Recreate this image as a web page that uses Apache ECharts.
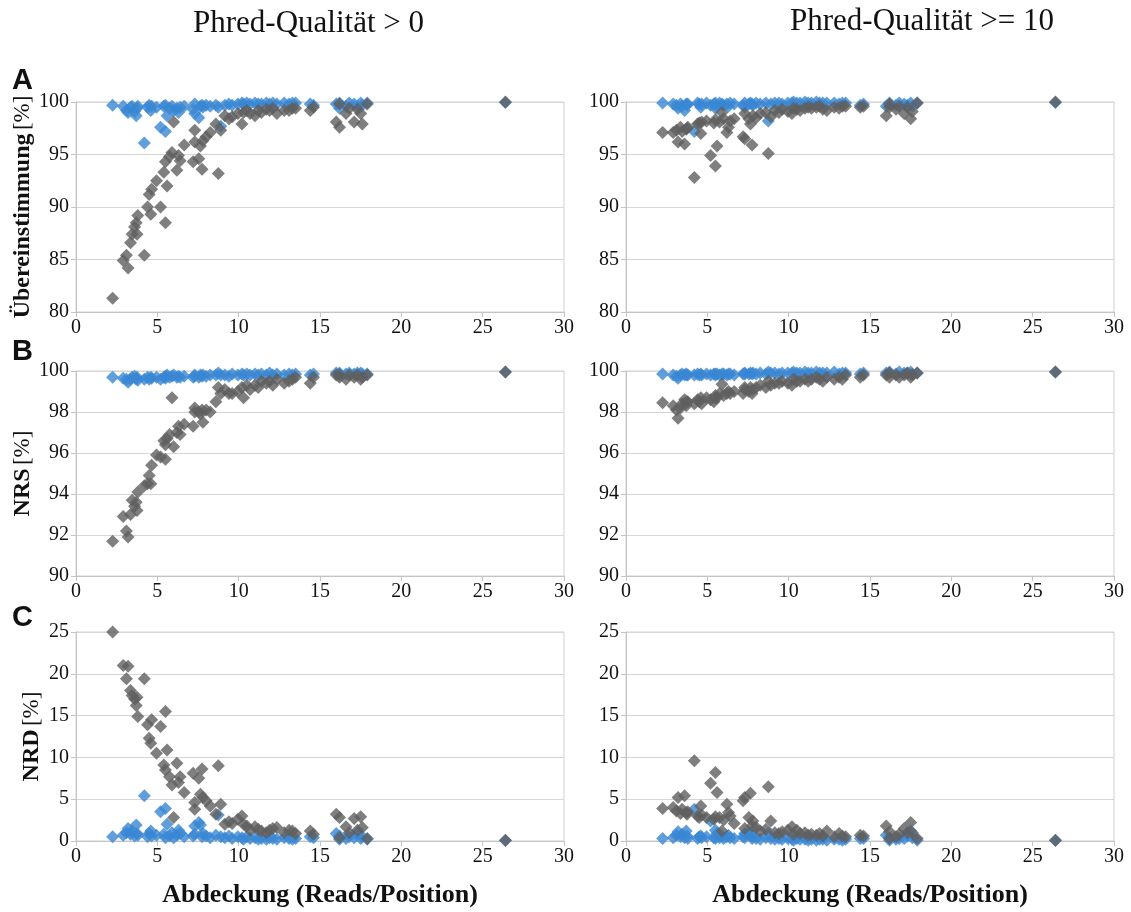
<!DOCTYPE html>
<html>
<head>
<meta charset="utf-8">
<script src="https://cdn.jsdelivr.net/npm/echarts@6/dist/echarts.min.js"></script>
<style>
  html, body { margin: 0; padding: 0; background: #fff; }
  #container { width: 1131px; height: 912px; }
</style>
</head>
<body>
<div id="container"></div>
<script>
// Abdeckung (Reads/Position) - gemeinsame x-Werte fuer alle Panels
var coverage = [
  2.25, 2.9, 3.1, 3.2, 3.35, 3.45, 3.6, 3.7, 3.75, 3.8,
  4.2, 4.4, 4.5, 4.6, 4.65, 4.95, 5.2, 5.4, 5.5, 5.5,
  5.6, 5.75, 5.9, 6.0, 6.2, 6.3, 6.4, 6.65, 7.2, 7.3,
  7.3, 7.55, 7.65, 7.75, 7.8, 8.0, 8.25, 8.6, 8.75, 8.9,
  9.15, 9.4, 9.6, 9.95, 10.2, 10.3, 10.5, 10.7, 11.0, 11.2,
  11.4, 11.7, 11.9, 12.1, 12.35, 12.8, 13.1, 13.3, 13.5, 14.4,
  14.6, 16.0, 16.2, 16.2, 16.6, 16.8, 17.1, 17.3, 17.5, 17.6,
  17.9, 26.4
];

// A: Uebereinstimmung [%]
var agreeQ0Gray = [
  81.3, 84.9, 85.4, 84.2, 86.6, 87.4, 88.1, 88.5, 87.4, 89.2,
  85.4, 90.0, 91.2, 89.3, 91.7, 92.5, 90.0, 93.3, 94.3, 88.5,
  92.0, 94.8, 95.2, 98.1, 93.5, 94.9, 94.4, 95.9, 94.3, 97.3,
  96.2, 94.6, 95.8, 93.6, 96.3, 96.7, 97.1, 97.9, 93.2, 97.3,
  98.7, 98.4, 98.6, 98.9, 97.9, 99.0, 99.2, 98.9, 98.7, 99.2,
  99.0, 99.3, 99.2, 99.4, 98.9, 99.2, 99.2, 99.4, 99.4, 99.2,
  99.5, 98.1, 97.6, 99.8, 98.9, 99.4, 98.1, 99.3, 98.9, 97.9,
  99.8, 100
];
var agreeQ0Blue = [
  99.7, 99.6, 99.2, 99.0, 99.5, 99.6, 99.1, 98.7, 99.4, 99.6,
  96.1, 99.5, 99.7, 99.2, 99.6, 99.5, 97.6, 99.6, 97.2, 99.7,
  98.7, 99.4, 99.6, 99.2, 99.4, 99.0, 99.5, 99.6, 99.3, 99.8,
  98.9, 98.5, 99.6, 99.7, 99.5, 99.7, 99.6, 99.7, 99.5, 97.7,
  99.7, 99.8, 99.7, 99.8, 99.9, 99.8, 99.9, 99.8, 99.9, 99.8,
  99.8, 99.9, 99.8, 99.9, 99.8, 99.9, 99.8, 99.9, 99.9, 99.8,
  99.7, 99.8, 99.4, 99.9, 99.6, 99.9, 99.8, 99.6, 99.9, 99.7,
  99.9, 99.95
];
var agreeQ10Gray = [
  97.1, 97.1, 97.3, 96.2, 97.6, 97.2, 96.0, 97.4, 97.5, 97.6,
  92.8, 97.9, 98.0, 97.0, 98.1, 98.2, 94.9, 98.0, 93.9, 98.3,
  95.8, 98.1, 99.0, 98.4, 97.1, 97.6, 98.2, 98.4, 96.7, 98.9,
  96.5, 98.4, 97.9, 95.9, 98.7, 98.5, 98.9, 99.0, 95.1, 98.6,
  99.2, 99.0, 99.3, 99.1, 98.9, 99.4, 99.3, 99.2, 99.4, 99.5,
  99.4, 99.5, 99.6, 99.3, 99.2, 99.5, 99.4, 99.6, 99.6, 99.5,
  99.6, 98.7, 99.5, 99.8, 99.3, 99.6, 98.9, 99.5, 98.4, 99.1,
  99.9, 100
];
var agreeQ10Blue = [
  99.9, 99.8, 99.7, 99.4, 99.8, 99.6, 99.2, 99.8, 99.7, 99.8,
  97.2, 99.9, 99.8, 99.5, 99.8, 99.9, 99.7, 99.8, 99.4, 99.9,
  99.6, 99.9, 99.8, 99.7, 99.8, 99.6, 99.9, 99.8, 99.7, 99.9,
  99.5, 99.8, 99.9, 99.8, 99.7, 99.9, 99.8, 99.9, 98.2, 99.8,
  99.9, 99.9, 99.8, 99.9, 99.9, 100, 99.9, 99.9, 100, 99.9,
  99.9, 100, 99.9, 99.9, 99.9, 99.9, 99.8, 99.9, 99.9, 99.7,
  99.8, 99.6, 99.8, 99.9, 99.7, 99.9, 99.8, 99.7, 99.9, 99.6,
  99.9, 99.95
];

// B: NRS [%]
var nrsQ0Gray = [
  91.7, 92.9, 92.2, 91.9, 93.0, 93.7, 93.4, 93.6, 93.2, 94.1,
  94.4, 94.5, 94.9, 94.5, 95.4, 95.9, 95.8, 96.6, 95.7, 96.4,
  96.7, 96.9, 98.7, 96.3, 97.0, 97.3, 96.9, 97.4, 97.3, 98.2,
  98.0, 98.0, 97.9, 98.1, 97.5, 98.1, 98.0, 98.5, 99.2, 98.9,
  99.1, 98.9, 98.9, 99.0, 99.2, 98.7, 99.3, 99.1, 99.3, 99.2,
  99.5, 99.4, 99.5, 99.3, 99.6, 99.4, 99.5, 99.6, 99.7, 99.4,
  99.7, 99.8, 99.7, 99.8, 99.6, 99.8, 99.7, 99.8, 99.6, 99.7,
  99.8, 99.95
];
var nrsQ0Blue = [
  99.7, 99.65, 99.6, 99.45, 99.6, 99.7, 99.75, 99.6, 99.7, 99.55,
  99.6, 99.7, 99.6, 99.7, 99.65, 99.7, 99.6, 99.7, 99.75, 99.65,
  99.8, 99.7, 99.75, 99.8, 99.7, 99.75, 99.7, 99.75, 99.7, 99.8,
  99.75, 99.7, 99.8, 99.75, 99.8, 99.75, 99.8, 99.8, 99.9, 99.8,
  99.8, 99.75, 99.85, 99.8, 99.85, 99.8, 99.85, 99.8, 99.85, 99.8,
  99.85, 99.8, 99.9, 99.8, 99.85, 99.8, 99.85, 99.8, 99.85, 99.8,
  99.85, 99.9, 99.85, 99.9, 99.85, 99.9, 99.85, 99.9, 99.9, 99.85,
  99.85, 99.95
];
var nrsQ10Gray = [
  98.45, 98.3, 98.1, 97.7, 98.2, 98.4, 98.6, 98.3, 98.5, 98.5,
  98.4, 98.6, 98.5, 98.7, 98.4, 98.7, 98.6, 98.5, 98.7, 98.8,
  98.7, 98.9, 99.35, 98.8, 98.9, 99.0, 98.9, 99.0, 98.9, 99.1,
  99.2, 99.0, 99.2, 98.9, 99.1, 99.2, 99.3, 99.2, 99.5, 99.3,
  99.4, 99.4, 99.5, 99.4, 99.3, 99.6, 99.5, 99.5, 99.6, 99.5,
  99.6, 99.7, 99.6, 99.5, 99.7, 99.6, 99.7, 99.6, 99.8, 99.7,
  99.8, 99.8, 99.9, 99.7, 99.8, 99.7, 99.8, 99.9, 99.7, 99.8,
  99.9, 99.95
];
var nrsQ10Blue = [
  99.85, 99.8, 99.75, 99.65, 99.8, 99.85, 99.8, 99.85, 99.8, 99.8,
  99.8, 99.85, 99.8, 99.85, 99.8, 99.85, 99.8, 99.85, 99.8, 99.85,
  99.85, 99.8, 99.85, 99.85, 99.8, 99.85, 99.85, 99.8, 99.85, 99.9,
  99.85, 99.85, 99.9, 99.85, 99.9, 99.85, 99.9, 99.85, 99.95, 99.9,
  99.9, 99.85, 99.9, 99.9, 99.9, 99.95, 99.9, 99.9, 99.95, 99.9,
  99.9, 99.95, 99.9, 99.9, 99.9, 99.95, 99.85, 99.9, 99.9, 99.85,
  99.9, 99.9, 99.95, 99.9, 99.85, 99.95, 99.9, 99.9, 99.95, 99.85,
  99.9, 99.95
];

// C: NRD [%]
var nrdQ0Gray = [
  25.0, 21.0, 19.4, 20.9, 18.0, 17.4, 17.0, 16.2, 17.2, 14.9,
  19.4, 13.9, 12.3, 11.7, 14.5, 10.5, 13.7, 9.1, 15.5, 8.5,
  10.9, 7.7, 6.7, 2.8, 9.3, 7.0, 7.7, 5.8, 8.1, 3.8,
  4.6, 7.5, 5.6, 8.6, 5.2, 4.8, 4.2, 3.2, 9.0, 4.4,
  2.0, 2.3, 2.1, 2.6, 3.0, 2.0, 1.8, 1.3, 1.7, 1.4,
  1.2, 1.0, 1.3, 1.5, 1.6, 1.0, 1.3, 1.2, 0.9, 1.2,
  0.8, 3.2, 2.8, 0.4, 1.7, 1.0, 2.7, 1.3, 2.9, 1.6,
  0.3, 0.1
];
var nrdQ0Blue = [
  0.5, 0.7, 1.0, 1.5, 0.8, 1.2, 0.6, 1.9, 0.9, 0.7,
  5.4, 0.5, 0.9, 1.2, 0.6, 0.7, 3.5, 0.8, 3.9, 0.4,
  2.0, 0.6, 1.0, 0.4, 0.7, 1.3, 0.9, 0.5, 0.6, 1.8,
  0.8, 2.2, 1.9, 0.5, 0.9, 0.6, 0.4, 0.7, 3.1, 0.5,
  0.4, 0.6, 0.3, 0.5, 0.4, 0.2, 0.5, 0.3, 0.4, 0.2,
  0.3, 0.2, 0.4, 0.3, 0.2, 0.4, 0.3, 0.2, 0.3, 0.5,
  0.4, 0.9, 0.2, 0.6, 0.3, 0.5, 0.4, 1.0, 0.3, 0.5,
  0.2, 0.05
];
var nrdQ10Gray = [
  3.9, 4.0, 3.6, 5.2, 3.3, 3.8, 5.4, 3.4, 3.2, 3.5,
  9.6, 3.0, 2.8, 4.2, 3.1, 2.8, 6.9, 2.6, 8.2, 2.9,
  5.8, 2.8, 1.2, 2.5, 4.4, 3.4, 3.0, 2.1, 4.8, 1.5,
  5.2, 2.8, 5.7, 1.8, 2.4, 1.6, 1.2, 1.4, 6.5, 2.4,
  1.0, 0.9, 1.1, 1.3, 1.7, 0.8, 1.3, 0.9, 1.0, 0.7,
  0.8, 0.7, 0.9, 0.6, 1.2, 0.5, 0.9, 0.6, 0.5, 0.7,
  0.6, 1.8, 0.3, 1.1, 0.5, 0.8, 1.5, 1.0, 2.2, 1.0,
  0.3, 0.1
];
var nrdQ10Blue = [
  0.3, 0.4, 0.7, 1.1, 0.5, 0.8, 0.4, 1.2, 0.6, 0.3,
  3.8, 0.3, 0.5, 0.6, 0.4, 0.5, 2.4, 0.4, 1.3, 0.3,
  0.9, 0.4, 0.6, 0.3, 0.5, 0.7, 0.4, 0.3, 0.5, 0.9,
  0.4, 1.0, 0.7, 0.3, 0.5, 0.3, 0.2, 0.4, 0.9, 0.3,
  0.2, 0.3, 0.2, 0.3, 0.2, 0.1, 0.3, 0.2, 0.2, 0.1,
  0.2, 0.1, 0.2, 0.2, 0.1, 0.2, 0.2, 0.1, 0.2, 0.3,
  0.3, 0.7, 0.1, 0.4, 0.2, 0.3, 0.3, 0.6, 1.2, 0.4,
  0.1, 0.05
];

var xTicks = [0, 30, 5];           // min, max, interval
var yTicksA = [80, 100, 5];
var yTicksB = [90, 100, 2];
var yTicksC = [0, 25, 5];

var BLUE = '#3a87d3';
var GRAY = '#5f5f5f';
var SERIF = '"Liberation Serif", "DejaVu Serif", serif';
var SANS = '"Liberation Sans", Arial, sans-serif';

function pairs(xs, ys) {
  var out = [];
  for (var i = 0; i < xs.length; i++) out.push([xs[i], ys[i]]);
  return out;
}

// panel layout: [left, top, width, height]
var panels = [
  { box: [76, 102, 488, 210], y: yTicksA, blue: agreeQ0Blue, gray: agreeQ0Gray, name: '{b|Übereinstimmung} {n|[%]}' },
  { box: [626, 102, 488, 210], y: yTicksA, blue: agreeQ10Blue, gray: agreeQ10Gray },
  { box: [76, 371, 488, 205], y: yTicksB, blue: nrsQ0Blue, gray: nrsQ0Gray, name: '{b|NRS} {n|[%]}' },
  { box: [626, 371, 488, 205], y: yTicksB, blue: nrsQ10Blue, gray: nrsQ10Gray },
  { box: [76, 632, 488, 209], y: yTicksC, blue: nrdQ0Blue, gray: nrdQ0Gray, name: '{b|NRD} {n|[%]}', xname: true },
  { box: [626, 632, 488, 209], y: yTicksC, blue: nrdQ10Blue, gray: nrdQ10Gray, xname: true }
];

var grids = [], xAxes = [], yAxes = [], series = [];
panels.forEach(function (p, i) {
  grids.push({
    left: p.box[0], top: p.box[1], width: p.box[2], height: p.box[3],
    show: true, borderColor: '#d0d0d0', borderWidth: 1, backgroundColor: 'transparent'
  });
  xAxes.push({
    type: 'value', gridIndex: i, min: xTicks[0], max: xTicks[1], interval: xTicks[2],
    axisLine: { lineStyle: { color: '#c4c4c4' } },
    axisTick: { show: true, length: 5, lineStyle: { color: '#c4c4c4' } },
    axisLabel: { margin: 6, color: '#111', fontFamily: SERIF, fontSize: 20 },
    splitLine: { show: false },
    name: p.xname ? 'Abdeckung (Reads/Position)' : '',
    nameLocation: 'middle', nameGap: 41,
    nameTextStyle: { color: '#111', fontFamily: SERIF, fontWeight: 'bold', fontSize: 26 }
  });
  yAxes.push({
    type: 'value', gridIndex: i, min: p.y[0], max: p.y[1], interval: p.y[2],
    axisLine: { show: true, lineStyle: { color: '#c4c4c4' } },
    axisTick: { show: true, length: 5, lineStyle: { color: '#c4c4c4' } },
    axisLabel: { margin: 7, color: '#111', fontFamily: SERIF, fontSize: 20 },
    splitLine: { show: true, lineStyle: { color: '#d6d6d6', width: 1 } },
    name: p.name || '', nameLocation: 'middle', nameGap: 32, nameRotate: 90,
    nameTextStyle: {
      rich: {
        b: { fontFamily: SERIF, fontWeight: 'bold', fontSize: 24, color: '#111' },
        n: { fontFamily: SERIF, fontSize: 23, color: '#111' }
      }
    }
  });
  series.push({
    type: 'scatter', xAxisIndex: i, yAxisIndex: i, symbol: 'diamond', symbolSize: [13, 13],
    itemStyle: { color: BLUE }, data: pairs(coverage, p.blue), z: 2
  });
  series.push({
    type: 'scatter', xAxisIndex: i, yAxisIndex: i, symbol: 'diamond', symbolSize: [13, 13],
    itemStyle: { color: GRAY }, data: pairs(coverage, p.gray), z: 3
  });
});

var myChart = echarts.init(document.getElementById('container'));
var option = {
  animation: false,
  backgroundColor: '#fff',
  grid: grids,
  xAxis: xAxes,
  yAxis: yAxes,
  series: series,
  graphic: [
    { type: 'text', left: 193, top: 8, style: { text: 'Phred-Qualität > 0', font: '31px ' + SERIF, fill: '#111' } },
    { type: 'text', left: 790, top: 6, style: { text: 'Phred-Qualität >= 10', font: '31px ' + SERIF, fill: '#111' } },
    { type: 'text', left: 12, top: 66, style: { text: 'A', font: 'bold 29px ' + SANS, fill: '#111' } },
    { type: 'text', left: 12, top: 337, style: { text: 'B', font: 'bold 29px ' + SANS, fill: '#111' } },
    { type: 'text', left: 12, top: 603, style: { text: 'C', font: 'bold 29px ' + SANS, fill: '#111' } }
  ]
};
if (option && typeof option === 'object') {
  myChart.setOption(option, true);
}
</script>
</body>
</html>
